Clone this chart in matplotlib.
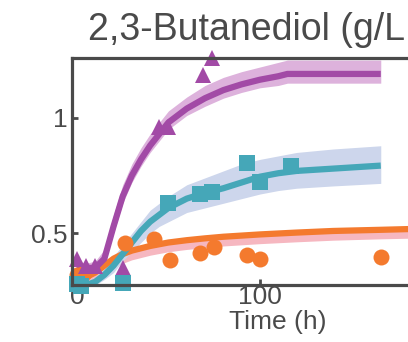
import matplotlib
matplotlib.use("Agg")
import matplotlib.pyplot as plt

plt.rcParams['font.family'] = ['Liberation Sans', 'DejaVu Sans']

# ---- data ----
# model curves (time grid, fitted value, band low, band high)
t_purple = [0, 5, 10, 15, 20, 25, 30, 35, 40, 45, 50, 60, 70, 80, 90, 100, 110, 115, 140, 166]
y_purple = [0.36, 0.35, 0.35, 0.39, 0.53, 0.66, 0.75, 0.82, 0.88, 0.93, 0.98, 1.04, 1.085, 1.12,
            1.145, 1.165, 1.18, 1.19, 1.19, 1.19]
lo_purple = [0.34, 0.33, 0.33, 0.37, 0.50, 0.63, 0.72, 0.79, 0.85, 0.90, 0.95, 1.01, 1.05, 1.085,
             1.11, 1.13, 1.14, 1.15, 1.15, 1.15]
hi_purple = [0.38, 0.37, 0.38, 0.43, 0.58, 0.71, 0.80, 0.87, 0.93, 0.98, 1.03, 1.09, 1.14, 1.175,
             1.20, 1.22, 1.24, 1.25, 1.25, 1.25]

t_teal = [0, 5, 10, 15, 20, 25, 30, 35, 40, 45, 50, 60, 70, 80, 90, 100, 110, 120, 140, 166]
y_teal = [0.27, 0.275, 0.29, 0.32, 0.36, 0.41, 0.46, 0.51, 0.55, 0.58, 0.61, 0.65, 0.675, 0.695,
          0.72, 0.745, 0.76, 0.77, 0.78, 0.793]
lo_teal = [0.26, 0.265, 0.275, 0.30, 0.33, 0.38, 0.42, 0.46, 0.50, 0.53, 0.55, 0.59, 0.61, 0.63,
           0.65, 0.67, 0.685, 0.695, 0.705, 0.716]
hi_teal = [0.28, 0.29, 0.31, 0.35, 0.40, 0.45, 0.50, 0.55, 0.60, 0.63, 0.66, 0.71, 0.74, 0.77,
           0.80, 0.82, 0.835, 0.85, 0.865, 0.879]

t_orange = [0, 5, 10, 15, 20, 25, 30, 40, 50, 60, 70, 80, 100, 120, 140, 166, 190]
y_orange = [0.30, 0.31, 0.33, 0.36, 0.39, 0.41, 0.425, 0.445, 0.46, 0.47, 0.478, 0.485, 0.495,
            0.503, 0.51, 0.515, 0.52]
lo_orange = [0.28, 0.29, 0.30, 0.32, 0.35, 0.37, 0.385, 0.405, 0.42, 0.43, 0.438, 0.445, 0.455,
             0.463, 0.47, 0.476, 0.48]
hi_orange = [0.31, 0.32, 0.34, 0.37, 0.40, 0.42, 0.43, 0.45, 0.465, 0.475, 0.483, 0.49, 0.50,
             0.508, 0.515, 0.52, 0.525]

# measured points
t_tri = [0, 5, 10, 25, 45, 50, 69, 74]
v_tri = [0.39, 0.36, 0.36, 0.35, 0.96, 0.96, 1.185, 1.26]

t_sq = [0, 2, 25, 50, 67, 74, 93, 100, 117]
v_sq = [0.28, 0.27, 0.285, 0.63, 0.67, 0.68, 0.806, 0.72, 0.79]

t_circ = [0, 4, 26, 42, 51, 67, 75, 93, 100, 166]
v_circ = [0.32, 0.33, 0.46, 0.475, 0.384, 0.414, 0.44, 0.405, 0.388, 0.397]

x_ticks = [0, 100]
x_ticklabels = ['0', '100']
y_ticks = [0.5, 1]
y_ticklabels = ['0.5', '1']

title_text = '2,3-Butanediol (g/L'   # as visible in the (cropped) reference

# ---- colours ----
c_purple, c_purple_band = '#A24AA6', '#DDB2DC'
c_teal, c_teal_band = '#45A7B8', '#CDD6EC'
c_orange, c_orange_band = '#F47A2E', '#F6B7C0'
c_axis = '#4a4a4a'
c_text = '#4a4a4a'

W, H = 408, 342
fig = plt.figure(figsize=(W / 100, H / 100), dpi=100)

left_px, right_px = 72, 484
bottom_px, top_px = 285, 58
ax = fig.add_axes([left_px / W, (H - bottom_px) / H, (right_px - left_px) / W,
                   (bottom_px - top_px) / H])
ax.set_xlim(-2.7, (right_px - 77) / 1.83)
ax.set_ylim(0.276, 1.259)

# bands
ax.fill_between(t_orange, lo_orange, hi_orange, color=c_orange_band, lw=0, zorder=1)
ax.fill_between(t_teal, lo_teal, hi_teal, color=c_teal_band, lw=0, zorder=1)
ax.fill_between(t_purple, lo_purple, hi_purple, color=c_purple_band, lw=0, zorder=1)

# lines
ax.plot(t_orange, y_orange, color=c_orange, lw=4.5, zorder=2, solid_capstyle='butt')
ax.plot(t_purple, y_purple, color=c_purple, lw=4.5, zorder=2, solid_capstyle='butt')
ax.plot(t_teal, y_teal, color=c_teal, lw=4.5, zorder=2, solid_capstyle='butt')

# markers
ax.plot(t_circ, v_circ, 'o', color=c_orange, ms=11.5, mew=0, zorder=3, clip_on=False)
ax.plot(t_tri, v_tri, '^', color=c_purple, ms=12, mew=0, zorder=4, clip_on=False)
ax.plot(t_sq, v_sq, 's', color=c_teal, ms=12, mew=0, zorder=5, clip_on=False)

for s in ['left', 'top', 'bottom', 'right']:
    ax.spines[s].set_color(c_axis)
    ax.spines[s].set_linewidth(2.3)
    ax.spines[s].set_zorder(6)

ax.set_xticks(x_ticks)
ax.set_xticklabels(x_ticklabels)
ax.set_yticks(y_ticks)
ax.set_yticklabels(y_ticklabels)
ax.tick_params(direction='in', length=4, width=2, color=c_axis, labelsize=19,
               labelcolor=c_text, pad=3)
ax.tick_params(axis='x', pad=0)

ax.set_xlabel('Time (h)', fontsize=19, color=c_text, labelpad=1)

fig.text(88 / W, 1 - 40 / H, title_text, fontsize=27, color=c_text,
         ha='left', va='baseline')

fig.savefig('out.png', dpi=100)
